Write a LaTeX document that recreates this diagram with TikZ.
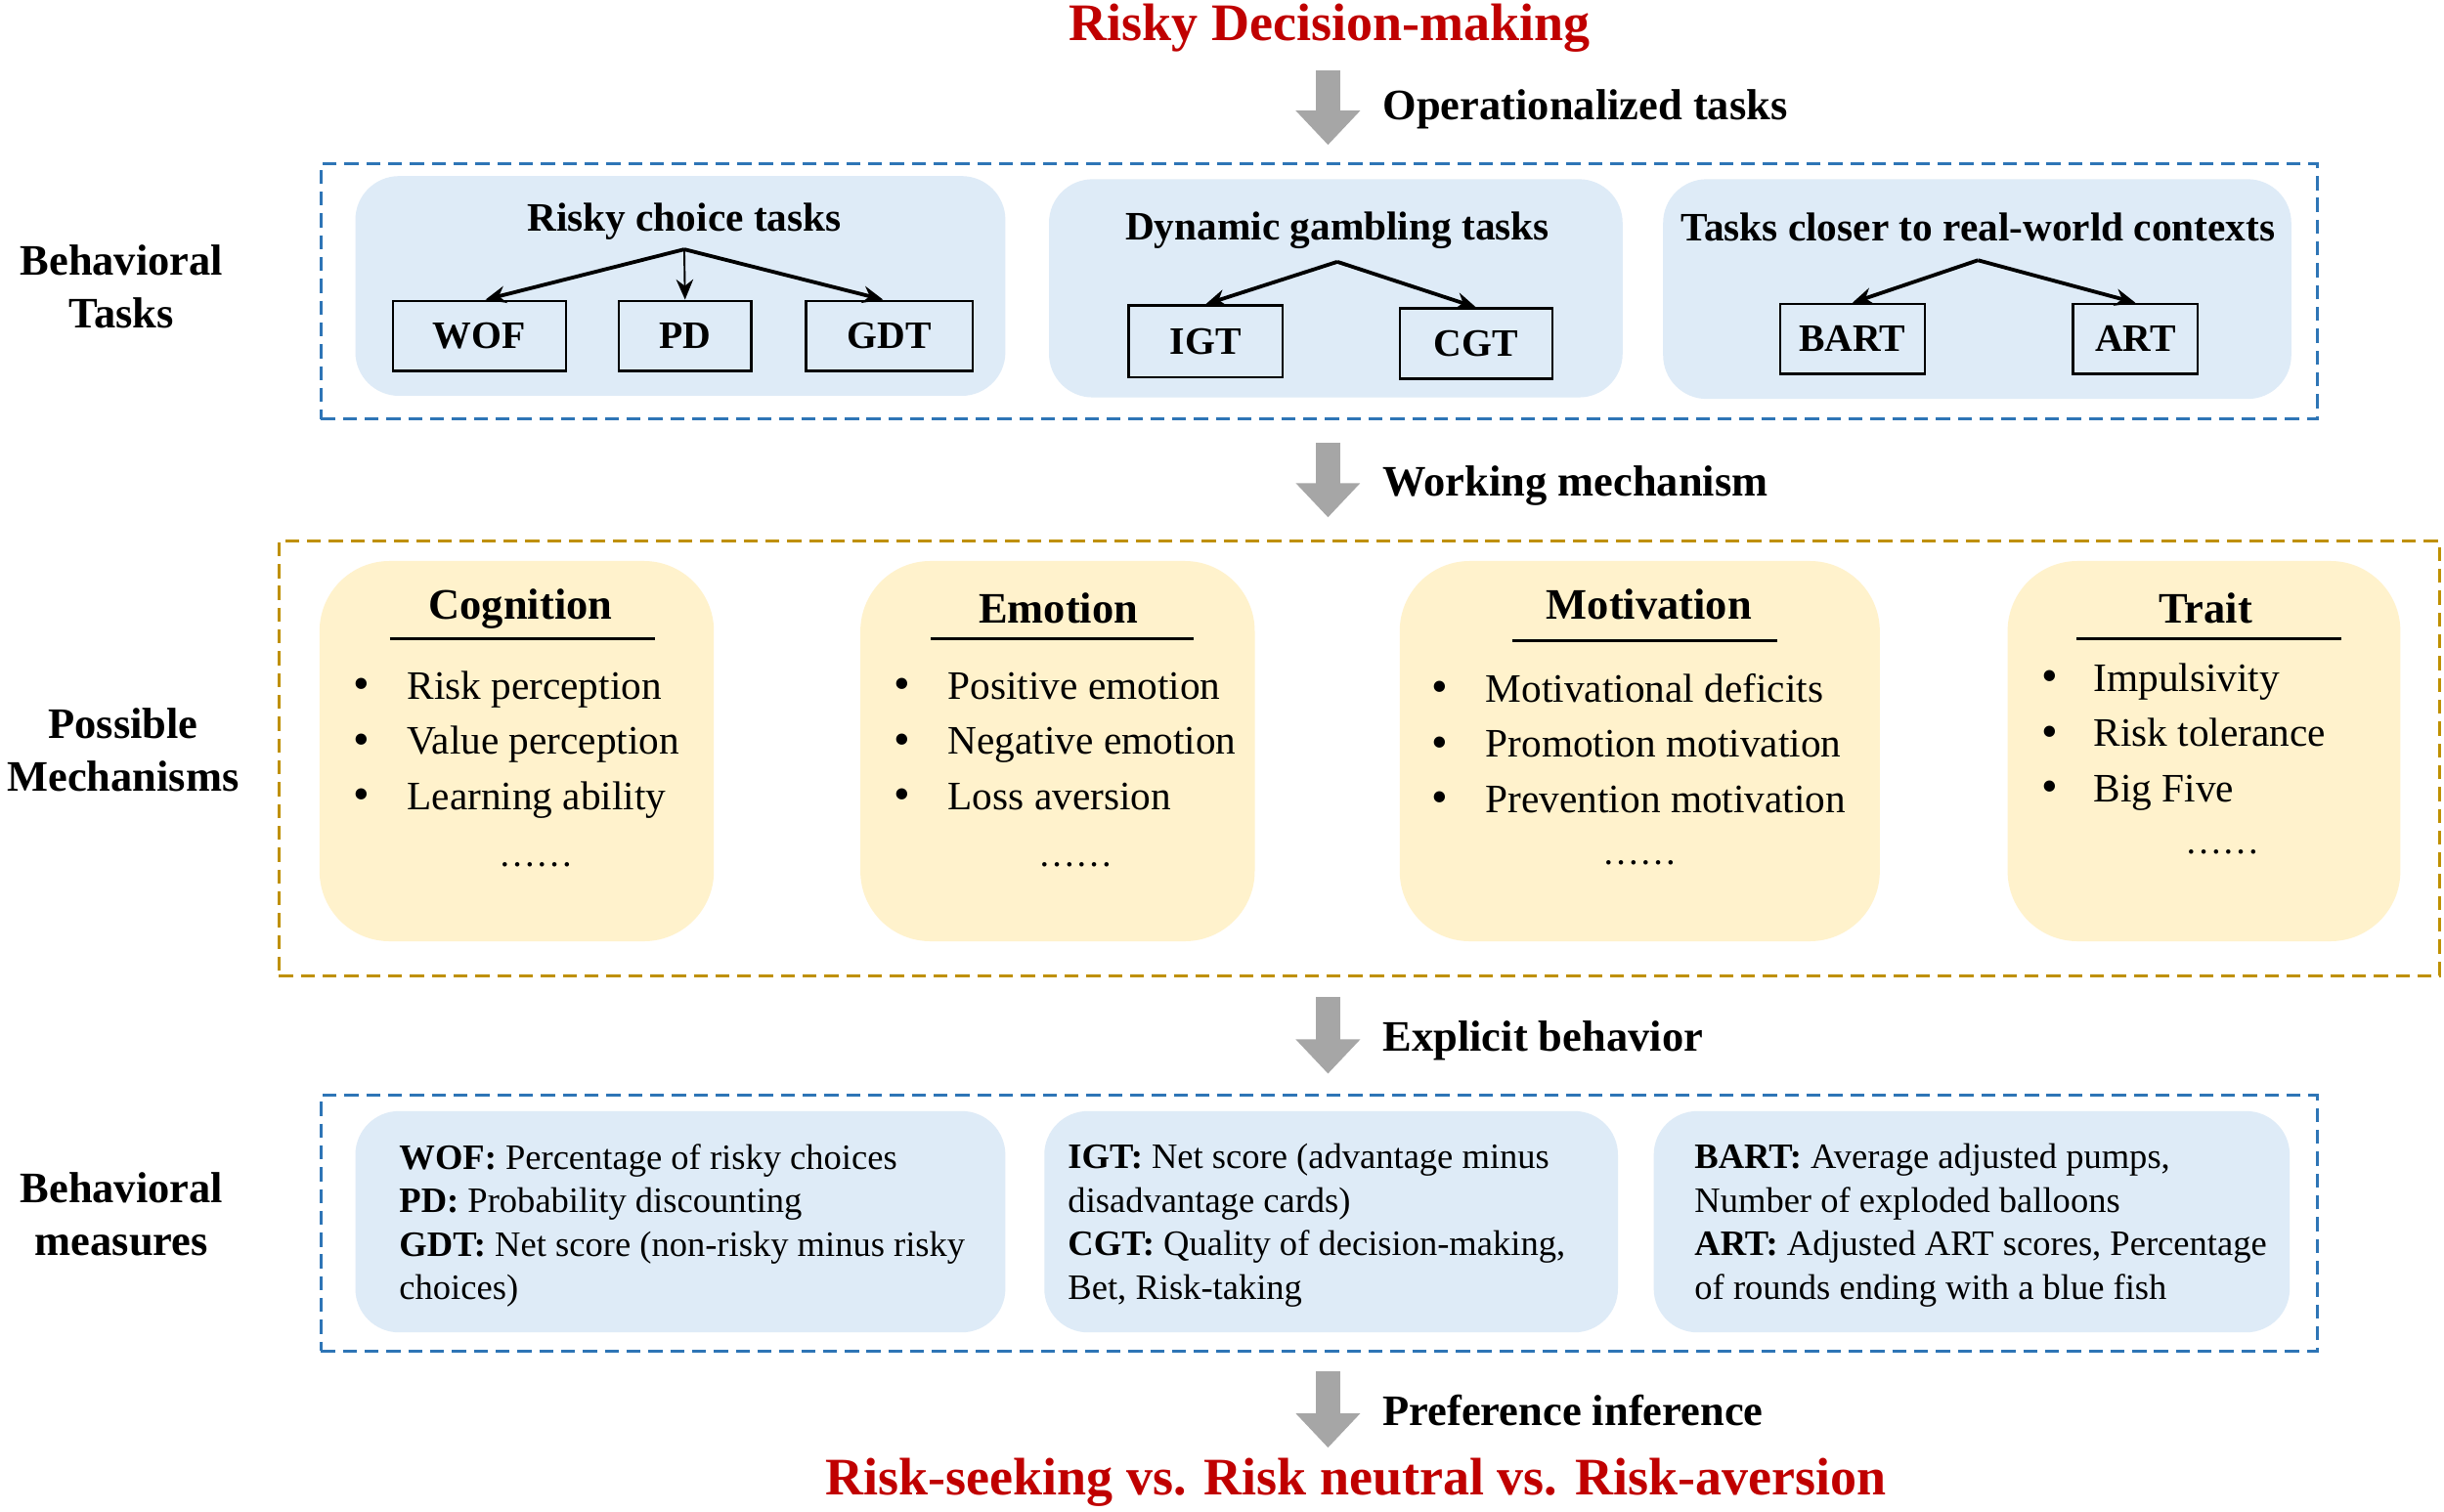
\documentclass[tikz,border=0pt]{standalone}
\usepackage{fontspec}
\setmainfont{Liberation Serif}
\usetikzlibrary{arrows.meta}
\definecolor{titlered}{HTML}{C00000}
\definecolor{dashblue}{HTML}{2E75B6}
\definecolor{lightblue}{HTML}{DEEBF7}
\definecolor{lightyellow}{HTML}{FFF2CC}
\definecolor{dashgold}{HTML}{BF9000}
\definecolor{arrowgray}{HTML}{A6A6A6}
\tikzset{
  bigtitle/.style={font=\fontsize{34}{40}\selectfont\bfseries, text=titlered, inner sep=0},
  flowarrow/.style={draw=arrowgray, line width=16bp, -{Triangle[width=40bp,length=22bp]}},
  arrowlabel/.style={font=\fontsize{28}{34}\selectfont\bfseries, anchor=west, inner sep=0},
  sidelabel/.style={font=\fontsize{28}{34}\selectfont\bfseries, align=center, inner sep=0},
  bluebox/.style={draw=dashblue, line width=2bp, dash pattern=on 9bp off 5bp, inner sep=0},
  goldbox/.style={draw=dashgold, line width=2bp, dash pattern=on 9bp off 5bp, inner sep=0},
  bluepanel/.style={fill=lightblue, rounded corners=28bp, inner sep=0},
  yellowcard/.style={fill=lightyellow, rounded corners=45bp, inner sep=0},
  panelhead/.style={font=\fontsize{26}{30}\selectfont\bfseries, inner sep=0},
  taskbox/.style={draw=black, line width=1.5bp, font=\fontsize{25}{30}\selectfont\bfseries, inner sep=0},
  treearrow/.style={line width=2.4bp, -{Stealth[length=13bp,width=11bp]}},
  cardtitle/.style={font=\fontsize{28}{34}\selectfont\bfseries, inner sep=0},
  cardrule/.style={line width=2bp},
  bul/.style={font=\fontsize{30}{34}\selectfont, inner sep=0},
  item/.style={font=\fontsize{26}{30}\selectfont, anchor=west, inner sep=0, text height=0.7em, text depth=0.2em},
  moredots/.style={font=\fontsize{24}{28}\selectfont, anchor=base, inner sep=0},
  measure/.style={font=\fontsize{23}{28}\selectfont, align=left, anchor=north west, inner sep=0}
}
\begin{document}
\begin{tikzpicture}[x=1bp,y=-1bp]
\useasboundingbox[fill=white] (0,0) rectangle (1568,970);

% ---------- top title and first arrow
\node[bigtitle] (title) at (853,18) {Risky Decision-making};
\coordinate (a1s) at (852,45);
\coordinate (a1e) at (852,93);
\draw[flowarrow] (a1s) -- (a1e);
\node[arrowlabel] (l1) at (887,70) {Operationalized tasks};

% ---------- behavioral tasks
\node[sidelabel] (btasks) at (78,184) {Behavioral\\Tasks};
\node[bluebox, minimum width=1281bp, minimum height=164bp] (box1) at (846.5,187) {};

\node[bluepanel, minimum width=417bp, minimum height=141bp] (p1) at (436.5,183.5) {};
\node[bluepanel, minimum width=368bp, minimum height=140bp] (p2) at (857,185) {};
\node[bluepanel, minimum width=403bp, minimum height=141bp] (p3) at (1268.5,185.5) {};

\node[panelhead] (h1) at (439,142) {Risky choice tasks};
\node[panelhead] (h2) at (858,148) {Dynamic gambling tasks};
\node[panelhead] (h3) at (1269,146) {Tasks closer to real-world contexts};

\node[taskbox, minimum width=111bp, minimum height=45bp] (wof) at (307.5,215.5) {WOF};
\node[taskbox, minimum width=85bp, minimum height=45bp] (pd) at (439.5,215.5) {PD};
\node[taskbox, minimum width=107bp, minimum height=45bp] (gdt) at (570.5,215.5) {GDT};
\node[taskbox, minimum width=99bp, minimum height=46bp] (igt) at (773.5,219) {IGT};
\node[taskbox, minimum width=98bp, minimum height=45bp] (cgt) at (947,220.5) {CGT};
\node[taskbox, minimum width=93bp, minimum height=45bp] (bart) at (1188.5,217.5) {BART};
\node[taskbox, minimum width=80bp, minimum height=45bp] (art) at (1370,217.5) {ART};

\coordinate (s1) at (439,160);
\coordinate (s2) at (858,168);
\coordinate (s3) at (1269,167);
\draw[treearrow] (s1) -- ([xshift=4bp]wof.north);
\draw[treearrow, line width=1.2bp] (s1) -- (pd.north);
\draw[treearrow] (s1) -- ([xshift=-4bp]gdt.north);
\draw[treearrow] (s2) -- (igt.north);
\draw[treearrow] (s2) -- (cgt.north);
\draw[treearrow] (s3) -- (bart.north);
\draw[treearrow] (s3) -- (art.north);

% ---------- second arrow
\coordinate (a2s) at (852,284);
\coordinate (a2e) at (852,332);
\draw[flowarrow] (a2s) -- (a2e);
\node[arrowlabel] (l2) at (887,312) {Working mechanism};

% ---------- possible mechanisms
\node[sidelabel] (pmech) at (79,481) {Possible\\Mechanisms};
\node[goldbox, minimum width=1386bp, minimum height=279bp] (box2) at (872,486.5) {};

\node[yellowcard, minimum width=253bp, minimum height=244bp] (cog) at (331.5,482) {};
\node[yellowcard, minimum width=253bp, minimum height=244bp] (emo) at (678.5,482) {};
\node[yellowcard, minimum width=308bp, minimum height=244bp] (mot) at (1052,482) {};
\node[yellowcard, minimum width=252bp, minimum height=244bp] (tra) at (1414,482) {};

\node[cardtitle] (cogt) at (334,391) {Cognition};
\node[cardtitle] (emot) at (679,390) {Emotion};
\node[cardtitle] (mott) at (1058,388) {Motivation};
\node[cardtitle] (trat) at (1415,390) {Trait};
\draw[cardrule] (250,410) -- (420,410);
\draw[cardrule] (597,410) -- (766,410);
\draw[cardrule] (970,411) -- (1140,411);
\draw[cardrule] (1332,410) -- (1502,410);

\foreach \t [count=\i] in {Risk perception, Value perception, Learning ability} {
  \node[bul] (cogb\i) at (232,{442+35.5*(\i-1)}) {\textbullet};
  \node[item] (cogi\i) at (261,{446+35.5*(\i-1)}) {\t};
}
\foreach \t [count=\i] in {Positive emotion, Negative emotion, Loss aversion} {
  \node[bul] (emob\i) at (579,{442+35.5*(\i-1)}) {\textbullet};
  \node[item] (emoi\i) at (608,{446+35.5*(\i-1)}) {\t};
}
\foreach \t [count=\i] in {Motivational deficits, Promotion motivation, Prevention motivation} {
  \node[bul] (motb\i) at (924,{444+35.5*(\i-1)}) {\textbullet};
  \node[item] (moti\i) at (953,{448+35.5*(\i-1)}) {\t};
}
\foreach \t [count=\i] in {Impulsivity, Risk tolerance, Big Five} {
  \node[bul] (trab\i) at (1315,{437+35.5*(\i-1)}) {\textbullet};
  \node[item] (trai\i) at (1343,{441+35.5*(\i-1)}) {\t};
}
\node[moredots] (cogd) at (344,556) {……};
\node[moredots] (emod) at (690,556) {……};
\node[moredots] (motd) at (1052,555) {……};
\node[moredots] (trad) at (1426,548) {……};

% ---------- third arrow
\coordinate (a3s) at (852,640);
\coordinate (a3e) at (852,689);
\draw[flowarrow] (a3s) -- (a3e);
\node[arrowlabel] (l3) at (887,668) {Explicit behavior};

% ---------- behavioral measures
\node[sidelabel] (bmeas) at (78,779) {Behavioral\\measures};
\node[bluebox, minimum width=1281bp, minimum height=164bp] (box3) at (846.5,785) {};

\node[bluepanel, minimum width=417bp, minimum height=142bp] (m1) at (436.5,784) {};
\node[bluepanel, minimum width=368bp, minimum height=142bp] (m2) at (854,784) {};
\node[bluepanel, minimum width=408bp, minimum height=142bp] (m3) at (1265,784) {};

\node[measure] (mt1) at (256,734) {\textbf{WOF:} Percentage of risky choices\\\textbf{PD:} Probability discounting\\\textbf{GDT:} Net score (non-risky minus risky\\choices)};
\node[measure] (mt2) at (685,734) {\textbf{IGT:} Net score (advantage minus\\disadvantage cards)\\\textbf{CGT:} Quality of decision-making,\\Bet, Risk-taking};
\node[measure] (mt3) at (1087,734) {\textbf{BART:} Average adjusted pumps,\\Number of exploded balloons\\\textbf{ART:} Adjusted ART scores, Percentage\\of rounds ending with a blue fish};

% ---------- fourth arrow and conclusion
\coordinate (a4s) at (852,880);
\coordinate (a4e) at (852,929);
\draw[flowarrow] (a4s) -- (a4e);
\node[arrowlabel] (l4) at (887,905) {Preference inference};
\node[bigtitle] (result) at (870,951) {Risk-seeking vs. Risk neutral vs. Risk-aversion};
\end{tikzpicture}
\end{document}
